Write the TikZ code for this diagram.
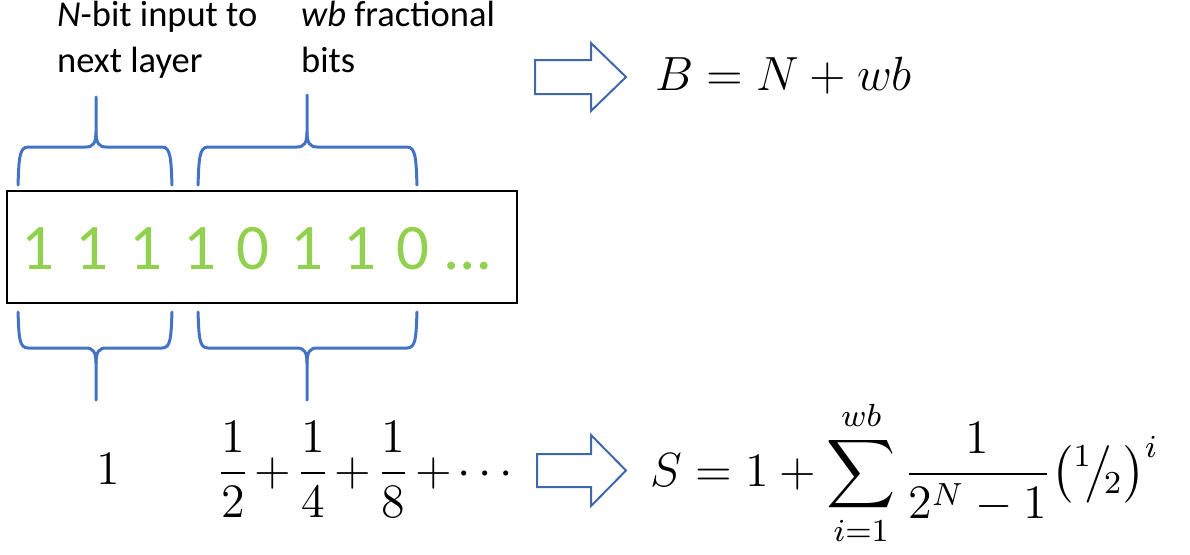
\documentclass[tikz,border=0pt]{standalone}
\usepackage{amsmath}
\usepackage{graphicx}
\usepackage{fontspec}
\setmainfont{Carlito}
\definecolor{bracecol}{HTML}{4472C4}
\definecolor{arrowcol}{HTML}{4068A8}
\definecolor{bitcol}{HTML}{92D050}
\newcommand{\bigmath}[1]{\scalebox{4}{#1}}
\tikzset{
  lbl/.style={inner sep=0pt, anchor=base west, font=\fontsize{36.5}{42}\selectfont},
  bitnode/.style={inner sep=0pt, anchor=base, text=bitcol, font=\fontsize{65}{75}\selectfont},
  mathlbl/.style={inner sep=0pt, anchor=base west, font=\fontsize{12}{14}\selectfont},
  bracestyle/.style={draw=bracecol, line width=3pt, line join=round, line cap=round},
  blockarrow/.style={draw=arrowcol, line width=2pt, fill=white, line join=miter},
  bitbox/.style={draw=black, line width=2pt}
}
\begin{document}
\begin{tikzpicture}[x=1pt,y=-1pt]
\useasboundingbox (0,0) rectangle (1190,554);

% labels on top
\node[lbl] (nlab1) at (57,27) {\textit{N}-bit input to};
\node[lbl] (nlab2) at (57,72) {next layer};
\node[lbl] (wlab1) at (301,27) {\textit{wb} fractional};
\node[lbl] (wlab2) at (301,72) {bits};

% top braces
\draw[bracestyle] (18,185) .. controls (19,160) and (19,147) .. (28,147) -- (86,147)
  .. controls (93,147) and (96,143) .. (96,132) -- (96,97);
\draw[bracestyle] (96,132) .. controls (96,143) and (99,147) .. (106,147) -- (162,147)
  .. controls (171,147) and (171,160) .. (172,185);
\draw[bracestyle] (198,185) .. controls (199,160) and (199,147) .. (208,147) -- (297,147)
  .. controls (304,147) and (307,143) .. (307,132) -- (307,95);
\draw[bracestyle] (307,132) .. controls (307,143) and (310,147) .. (317,147) -- (407,147)
  .. controls (416,147) and (416,160) .. (417,185);

% bit box
\node[bitbox, minimum width=510pt, minimum height=112pt, inner sep=0pt] (box) at (262,247) {};
\node[bitnode] (b1) at (38,269) {1};
\node[bitnode] (b2) at (92,269) {1};
\node[bitnode] (b3) at (146,269) {1};
\node[bitnode] (b4) at (200,269) {1};
\node[bitnode] (b5) at (253,269) {0};
\node[bitnode] (b6) at (307,269) {1};
\node[bitnode] (b7) at (360,269) {1};
\node[bitnode] (b8) at (413,269) {0};
\node[bitnode, anchor=base west] (bdots) at (445,269) {…};

% bottom braces
\draw[bracestyle] (18,312) .. controls (19,337) and (19,348) .. (28,348) -- (86,348)
  .. controls (93,348) and (96,352) .. (96,363) -- (96,400);
\draw[bracestyle] (96,363) .. controls (96,352) and (99,348) .. (106,348) -- (162,348)
  .. controls (171,348) and (171,337) .. (172,312);
\draw[bracestyle] (198,312) .. controls (199,337) and (199,348) .. (208,348) -- (297,348)
  .. controls (304,348) and (307,352) .. (307,363) -- (307,400);
\draw[bracestyle] (307,363) .. controls (307,352) and (310,348) .. (317,348) -- (407,348)
  .. controls (416,348) and (416,337) .. (417,312);

% bottom values
\node[mathlbl, anchor=base] (one) at (108,484) {\bigmath{$1$}};
\node[mathlbl] (series) at (216,485) {\bigmath{$\medmuskip=2mu\displaystyle \frac{1}{2}+\frac{1}{4}+\frac{1}{8}+\cdots$}};

% block arrows
\draw[blockarrow] (535,60) -- (591,60) -- (591,43) -- (626,77) -- (591,111) -- (591,94) -- (535,94) -- cycle;
\draw[blockarrow] (537,454) -- (591,454) -- (591,435) -- (626,470.5) -- (591,506) -- (591,487) -- (537,487) -- cycle;

% formulas
\node[mathlbl] (fB) at (655,90) {\bigmath{$B = N + wb$}};
\node[mathlbl] (fS) at (650,486) {\bigmath{$\displaystyle S = 1 + \sum_{i=1}^{wb} \frac{1}{2^N-1}\bigl({}^{1}\!\big/\!{}_{2}\bigr)^{i}$}};
\end{tikzpicture}
\end{document}
